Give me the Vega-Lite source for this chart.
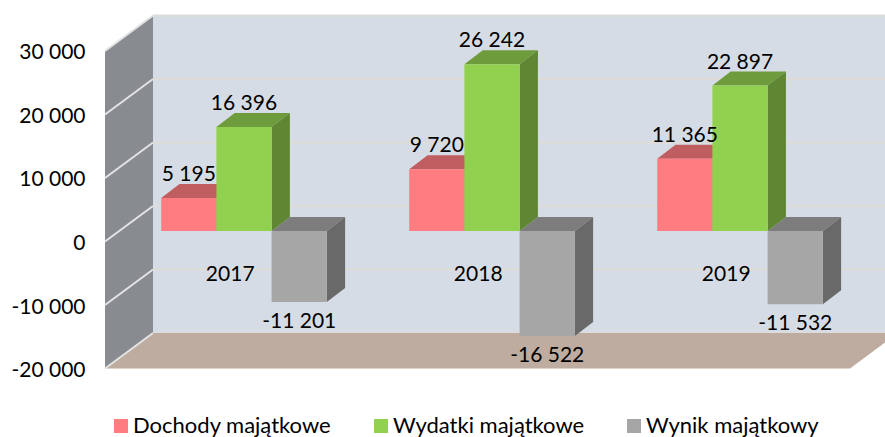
{
"$schema":"https://vega.github.io/schema/vega-lite/v6.json",
"width":795,"height":437,
"autosize":{"type":"none"},
"padding":{"left":90,"top":0,"right":0,"bottom":0},
"background":"white",
"config":{"view":{"stroke":null},"text":{"font":"Lato"},"legend":{"labelFont":"Lato"},"axis":{"labelFont":"Lato"}},
"datasets":{
"bars":[
{"year":2017,"series":"Dochody majątkowe","value":5195},
{"year":2017,"series":"Wydatki majątkowe","value":16396},
{"year":2017,"series":"Wynik majątkowy","value":-11201},
{"year":2018,"series":"Dochody majątkowe","value":9720},
{"year":2018,"series":"Wydatki majątkowe","value":26242},
{"year":2018,"series":"Wynik majątkowy","value":-16522},
{"year":2019,"series":"Dochody majątkowe","value":11365},
{"year":2019,"series":"Wydatki majątkowe","value":22897},
{"year":2019,"series":"Wynik majątkowy","value":-11532}
],
"range":[{"min":-20000,"max":30000}],
"ticks":[{"tick":-20000},{"tick":-10000},{"tick":0},{"tick":10000},{"tick":20000},{"tick":30000}]
},
"layer":[
{"data":{"name":"range"},
 "transform":[{"calculate":"-0.1486","as":"a"},{"calculate":"13.35","as":"b"},{"calculate":"datum.min+5591","as":"lo"},{"calculate":"datum.max+5591","as":"hi"}],
 "mark":{"type":"rect","color":"#d6dce5","clip":true},
 "encoding":{
  "x":{"field":"a","type":"quantitative","scale":{"domain":[-1.2899,13.112],"nice":false,"zero":false},"axis":null},
  "x2":{"field":"b"},
  "y":{"field":"lo","type":"quantitative","scale":{"domain":[-30787,38031],"nice":false,"zero":false},
    "axis":{"title":null,"values":[-20000,-10000,0,10000,20000,30000],"domain":false,"ticks":false,"grid":false,"labelFontSize":21,"labelColor":"#000000","labelPadding":5,"labelOffset":2,"labelOverlap":false,"labelFlush":false,
      "labelExpr":"(datum.value<0?'-':'')+replace(format(abs(datum.value),','),',',' ')"}},
  "y2":{"field":"hi"}
 }},
{"data":{"name":"ticks"},
 "transform":[{"calculate":"datum.tick+5591","as":"v"},{"calculate":"-0.1486","as":"a"},{"calculate":"13.35","as":"b"}],
 "mark":{"type":"rule","color":"#dedbd8","strokeWidth":2,"clip":true},
 "encoding":{"x":{"field":"a","type":"quantitative"},"x2":{"field":"b"},"y":{"field":"v","type":"quantitative"}}},
{"data":{"name":"range"},
 "transform":[{"calculate":"[0,1]","as":"t"},{"flatten":["t"]},{"calculate":"-1.0181+datum.t*0.8696","as":"a"},{"calculate":"12.478+datum.t*0.8696","as":"b"},{"calculate":"datum.min+datum.t*5591","as":"v"}],
 "mark":{"type":"area","orient":"horizontal","color":"#bfaca0","clip":true},
 "encoding":{"x":{"field":"a","type":"quantitative"},"x2":{"field":"b"},"y":{"field":"v","type":"quantitative"}}},
{"data":{"name":"range"},
 "transform":[{"calculate":"[0,1]","as":"t"},{"flatten":["t"]},{"calculate":"-1.0181+datum.t*0.8696","as":"a"},{"calculate":"datum.min+datum.t*5591","as":"lo"},{"calculate":"datum.max+datum.t*5591","as":"hi"}],
 "mark":{"type":"area","orient":"vertical","color":"#888b8f"},
 "encoding":{"x":{"field":"a","type":"quantitative"},"y":{"field":"lo","type":"quantitative"},"y2":{"field":"hi"}}},
{"data":{"name":"ticks"},
 "transform":[{"calculate":"[0,1]","as":"t"},{"flatten":["t"]},{"calculate":"-1.0181+datum.t*0.8696","as":"a"},{"calculate":"datum.tick+datum.t*5591","as":"v"}],
 "mark":{"type":"line","color":"#e2e3e3","strokeWidth":2},
 "encoding":{"x":{"field":"a","type":"quantitative"},"y":{"field":"v","type":"quantitative"},"detail":{"field":"tick"}}},
{"data":{"name":"bars"},
 "transform":[
  {"calculate":"(datum.year-2017)*4.4928+indexof(['Dochody majątkowe','Wydatki majątkowe','Wynik majątkowy'],datum.series)","as":"u0"},
  {"calculate":"datum.year+datum.series","as":"id"},
  {"calculate":"[0,1]","as":"t"},{"flatten":["t"]},
  {"calculate":"datum.u0+datum.t*0.3315","as":"a"},
  {"calculate":"datum.u0+1+datum.t*0.3315","as":"b"},
  {"calculate":"max(datum.value,0)+1654+datum.t*2205","as":"v"}],
 "mark":{"type":"area","orient":"horizontal"},
 "encoding":{"x":{"field":"a","type":"quantitative"},"x2":{"field":"b"},"y":{"field":"v","type":"quantitative"},"detail":{"field":"id"},
  "color":{"field":"series","type":"nominal","legend":null,"scale":{"domain":["Dochody majątkowe","Wydatki majątkowe","Wynik majątkowy"],"range":["#c05d60","#6e9c3c","#7d7d7d"]}}}},
{"data":{"name":"bars"},
 "transform":[
  {"calculate":"(datum.year-2017)*4.4928+indexof(['Dochody majątkowe','Wydatki majątkowe','Wynik majątkowy'],datum.series)","as":"u0"},
  {"calculate":"datum.year+datum.series","as":"id"},
  {"calculate":"[0,1]","as":"t"},{"flatten":["t"]},
  {"calculate":"datum.u0+1+datum.t*0.3315","as":"a"},
  {"calculate":"min(datum.value,0)+1654+datum.t*2205","as":"lo"},
  {"calculate":"max(datum.value,0)+1654+datum.t*2205","as":"hi"}],
 "mark":{"type":"area","orient":"vertical"},
 "encoding":{"x":{"field":"a","type":"quantitative"},"y":{"field":"lo","type":"quantitative"},"y2":{"field":"hi"},"detail":{"field":"id"},
  "color":{"field":"series","type":"nominal","legend":null,"scale":{"domain":["Dochody majątkowe","Wydatki majątkowe","Wynik majątkowy"],"range":["#c05d60","#5f8733","#696969"]}}}},
{"data":{"name":"bars"},
 "transform":[
  {"calculate":"(datum.year-2017)*4.4928+indexof(['Dochody majątkowe','Wydatki majątkowe','Wynik majątkowy'],datum.series)","as":"a"},
  {"calculate":"datum.a+1","as":"b"},
  {"calculate":"1654","as":"lo"},
  {"calculate":"datum.value+1654","as":"hi"}],
 "mark":{"type":"rect"},
 "encoding":{"x":{"field":"a","type":"quantitative"},"x2":{"field":"b"},"y":{"field":"lo","type":"quantitative"},"y2":{"field":"hi"},
  "color":{"field":"series","type":"nominal","scale":{"domain":["Dochody majątkowe","Wydatki majątkowe","Wynik majątkowy"],"range":["#ff7c80","#92d050","#a6a6a6"]},
   "legend":{"title":null,"orient":"none","legendX":20,"legendY":415,"direction":"horizontal","symbolType":"square","symbolSize":196,"symbolStrokeWidth":0,"labelFontSize":22,"labelColor":"#000000","labelLimit":300,"labelOffset":1,"columnPadding":38,"symbolOpacity":1}}}},
{"data":{"name":"bars"},
 "transform":[
  {"calculate":"(datum.year-2017)*4.4928+indexof(['Dochody majątkowe','Wydatki majątkowe','Wynik majątkowy'],datum.series)+0.5","as":"a"},
  {"calculate":"datum.value+1654+(datum.value>0?2677:-4094)","as":"v"},
  {"calculate":"(datum.value<0?'-':'')+replace(format(abs(datum.value),','),',',' ')","as":"label"}],
 "mark":{"type":"text","fontSize":21,"color":"#000000","align":"center","baseline":"alphabetic"},
 "encoding":{"x":{"field":"a","type":"quantitative"},"y":{"field":"v","type":"quantitative"},"text":{"field":"label"}}},
{"data":{"name":"bars"},
 "transform":[{"filter":"datum.series==='Dochody majątkowe'"},
  {"calculate":"(datum.year-2017)*4.4928+1.25","as":"a"},
  {"calculate":"-6220","as":"v"},
  {"calculate":"''+datum.year","as":"label"}],
 "mark":{"type":"text","fontSize":21,"color":"#000000","align":"center","baseline":"alphabetic"},
 "encoding":{"x":{"field":"a","type":"quantitative"},"y":{"field":"v","type":"quantitative"},"text":{"field":"label"}}}
],
"resolve":{"scale":{"color":"independent"}}
}
